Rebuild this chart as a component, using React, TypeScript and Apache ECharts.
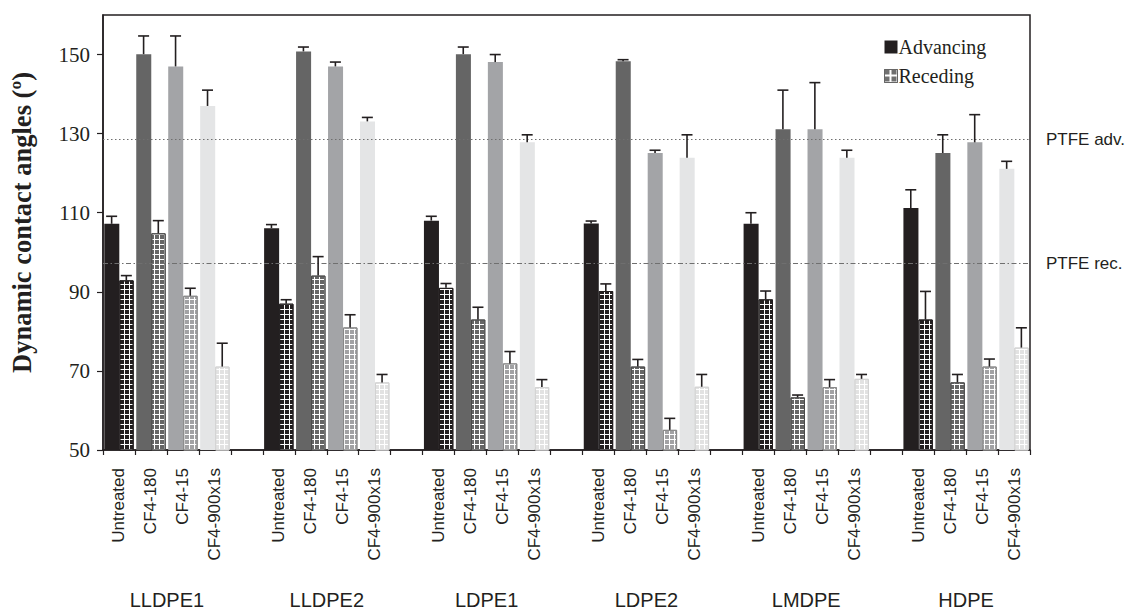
import React, { useEffect, useRef } from "react";
import * as echarts from "echarts";

const groups = ["LLDPE1", "LLDPE2", "LDPE1", "LDPE2", "LMDPE", "HDPE"];
const treatments = ["Untreated", "CF4-180", "CF4-15", "CF4-900x1s"];

// advancing angles per group (Untreated, CF4-180, CF4-15, CF4-900x1s)
const advLLDPE1 = [107.2, 150.1, 147.0, 137.0];
const advLLDPE2 = [106.1, 150.8, 147.0, 133.1];
const advLDPE1 = [108.0, 150.1, 148.1, 127.8];
const advLDPE2 = [107.3, 148.3, 125.1, 123.9];
const advLMDPE = [107.2, 131.1, 131.1, 123.9];
const advHDPE = [111.2, 125.1, 127.8, 121.1];

const advErrLLDPE1 = [1.9, 4.6, 7.7, 4.0];
const advErrLLDPE2 = [0.9, 1.1, 1.1, 1.0];
const advErrLDPE1 = [1.1, 1.8, 1.9, 1.9];
const advErrLDPE2 = [0.6, 0.4, 0.7, 5.8];
const advErrLMDPE = [2.8, 9.9, 11.8, 1.9];
const advErrHDPE = [4.6, 4.6, 7.0, 1.9];

// receding angles
const recLLDPE1 = [92.9, 104.8, 89.0, 71.1];
const recLLDPE2 = [87.0, 94.1, 81.0, 67.1];
const recLDPE1 = [91.0, 83.0, 71.9, 65.9];
const recLDPE2 = [90.2, 71.1, 55.1, 66.0];
const recLMDPE = [88.1, 63.3, 65.9, 68.0];
const recHDPE = [83.0, 67.1, 71.1, 75.9];

const recErrLLDPE1 = [1.2, 3.2, 1.9, 5.9];
const recErrLLDPE2 = [1.0, 4.8, 3.2, 2.0];
const recErrLDPE1 = [1.1, 3.1, 3.0, 1.9];
const recErrLDPE2 = [1.8, 1.8, 2.9, 3.1];
const recErrLMDPE = [2.1, 0.6, 1.9, 1.1];
const recErrHDPE = [7.1, 2.0, 1.9, 5.0];

const ptfeAdv = 128.6;
const ptfeRec = 97.2;

const yTicks = [50, 70, 90, 110, 130, 150];

const advAll = [advLLDPE1, advLLDPE2, advLDPE1, advLDPE2, advLMDPE, advHDPE];
const advErrAll = [advErrLLDPE1, advErrLLDPE2, advErrLDPE1, advErrLDPE2, advErrLMDPE, advErrHDPE];
const recAll = [recLLDPE1, recLLDPE2, recLDPE1, recLDPE2, recLMDPE, recHDPE];
const recErrAll = [recErrLLDPE1, recErrLLDPE2, recErrLDPE1, recErrLDPE2, recErrLMDPE, recErrHDPE];

const advColors = ["#231f20", "#656565", "#a3a4a7", "#e4e5e6"];
const recColors = ["#231f20", "#666666", "#a2a2a4", "#e2e2e2"];
const recBorders = ["#231f20", "#4a4a4a", "#888888", "#d2d2d2"];

const SLOTS = groups.length * 5 - 1;
const cats: string[] = [];
for (let i = 0; i < SLOTS; i++) {
  const t = i % 5;
  cats.push(t < 4 ? treatments[t] : "");
}

function decalOf(color: string) {
  return {
    symbol: "rect",
    symbolSize: 1,
    color,
    dashArrayX: [3.2, 1],
    dashArrayY: [3.2, 1],
    rotation: 0,
  };
}

const INK = "#231f20";

export default function App() {
  const ref = useRef<HTMLDivElement>(null);
  useEffect(() => {
    if (!ref.current) return;
    const chart = echarts.init(ref.current, undefined, { renderer: "svg" });

    const advData: any[] = [];
    const recData: any[] = [];
    const advErr: any[] = [];
    const recErr: any[] = [];
    for (let i = 0; i < SLOTS; i++) {
      const g = Math.floor(i / 5);
      const t = i % 5;
      if (t === 4) {
        advData.push(null);
        recData.push(null);
        continue;
      }
      advData.push({ value: advAll[g][t], itemStyle: { color: advColors[t] } });
      recData.push({
        value: recAll[g][t],
        itemStyle: {
          color: "#ffffff",
          borderColor: recBorders[t],
          borderWidth: 1,
          decal: decalOf(recColors[t]),
        },
      });
      advErr.push([i, advAll[g][t], advErrAll[g][t]]);
      recErr.push([i, recAll[g][t], recErrAll[g][t]]);
    }

    const errRender = (side: number) => (params: any, api: any) => {
      const x = api.value(0);
      const v = api.value(1);
      const e = api.value(2);
      const band = api.size([1, 0])[0];
      const base = api.coord([x, v]);
      const top = api.coord([x, v + e]);
      const cx = base[0] + side * band * 0.23;
      const style = { stroke: INK, lineWidth: 1.6 };
      return {
        type: "group",
        children: [
          { type: "line", shape: { x1: cx, y1: base[1], x2: cx, y2: top[1] }, style },
          { type: "line", shape: { x1: cx - 5.5, y1: top[1], x2: cx + 5.5, y2: top[1] }, style },
        ],
      };
    };

    const refLabel = {
      show: true,
      position: "end",
      distance: 16,
      color: INK,
      fontFamily: "Liberation Sans",
      fontSize: 17,
    };

    chart.setOption({
      animation: false,
      backgroundColor: "#ffffff",
      grid: {
        left: 102,
        right: 113,
        top: 15,
        bottom: 162,
        show: true,
        borderColor: INK,
        borderWidth: 1.5,
        backgroundColor: "transparent",
      },
      legend: {
        orient: "vertical",
        left: 879,
        top: 32,
        itemWidth: 13,
        itemHeight: 13,
        itemGap: 9,
        textStyle: { fontFamily: "Liberation Serif", fontSize: 20, color: INK, padding: [0, 0, 0, -4] },
        data: [
          { name: "Advancing", icon: "rect", itemStyle: { color: INK } },
          {
            name: "Receding",
            icon: "rect",
            itemStyle: {
              color: "#ffffff",
              borderColor: "#666666",
              borderWidth: 1,
              decal: { symbol: "rect", symbolSize: 1, color: "#707070", dashArrayX: [5, 1.2], dashArrayY: [5, 1.2] },
            },
          },
        ],
      },
      xAxis: [
        {
          type: "category",
          data: cats,
          boundaryGap: true,
          axisLine: { lineStyle: { color: INK, width: 1.5 } },
          axisTick: { show: true, interval: 0, length: 5, lineStyle: { color: INK, width: 1.2 } },
          axisLabel: {
            interval: 0,
            rotate: 90,
            margin: 18,
            color: INK,
            fontFamily: "Liberation Sans",
            fontSize: 17,
          },
        },
        {
          type: "value",
          min: 0,
          max: SLOTS,
          position: "bottom",
          offset: 0,
          axisLine: { show: false },
          axisTick: { show: false },
          splitLine: { show: false },
          axisLabel: {
            customValues: groups.map((_, g) => g * 5 + 2),
            formatter: (v: number) => groups[Math.round((v - 2) / 5)] || "",
            margin: 140,
            color: INK,
            fontFamily: "Liberation Sans",
            fontSize: 20,
          },
        },
      ],
      yAxis: {
        type: "value",
        min: 50,
        max: 160,
        name: "Dynamic contact angles (º)",
        nameLocation: "middle",
        nameGap: 68,
        nameTextStyle: {
          fontFamily: "Liberation Serif",
          fontWeight: "bold",
          fontSize: 26.5,
          color: INK,
          padding: [0, 0, 0, 20],
        },
        axisLine: { show: true, lineStyle: { color: INK, width: 1.5 } },
        axisTick: {
          show: true,
          length: 6,
          customValues: yTicks,
          lineStyle: { color: INK, width: 1.2 },
        },
        splitLine: { show: false },
        axisLabel: {
          customValues: yTicks,
          margin: 13,
          color: INK,
          fontFamily: "Liberation Serif",
          fontSize: 21,
        },
      },
      series: [
        {
          name: "Advancing",
          type: "bar",
          xAxisIndex: 0,
          barWidth: "47%",
          barGap: "0%",
          itemStyle: { color: INK },
          data: advData,
          markLine: {
            silent: true,
            symbol: "none",
            data: [
              {
                yAxis: ptfeAdv,
                lineStyle: { color: "#6f6f6f", type: [1.5, 2.5], width: 1 },
                label: { ...refLabel, formatter: "PTFE adv." },
              },
              {
                yAxis: ptfeRec,
                lineStyle: { color: "#6f6f6f", type: [5, 2.5, 1.5, 2.5], width: 1 },
                label: { ...refLabel, formatter: "PTFE rec." },
              },
            ],
          },
        },
        {
          name: "Receding",
          type: "bar",
          xAxisIndex: 0,
          barWidth: "45%",
          barGap: "0%",
          itemStyle: { color: "#ffffff", borderColor: "#666666", decal: decalOf("#666666") },
          data: recData,
        },
        {
          name: "advErr",
          type: "custom",
          xAxisIndex: 0,
          renderItem: errRender(-1),
          encode: { x: 0, y: 1 },
          data: advErr,
          z: 5,
        },
        {
          name: "recErr",
          type: "custom",
          xAxisIndex: 0,
          renderItem: errRender(1),
          encode: { x: 0, y: 1 },
          data: recErr,
          z: 5,
        },
      ],
    });
    return () => chart.dispose();
  }, []);
  return (
    <div
      ref={ref}
      style={{ position: "fixed", left: 0, top: 0, width: 1143, height: 612, background: "#fff" }}
    />
  );
}
